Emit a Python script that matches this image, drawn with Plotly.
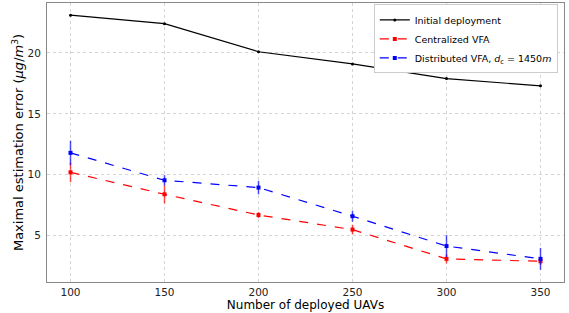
import plotly.graph_objects as go

uavs = [100, 150, 200, 250, 300, 350]
initial = [23.1, 22.4, 20.1, 19.1, 17.9, 17.3]
central = [10.2, 8.4, 6.7, 5.5, 3.1, 2.9]
central_err = [0.8, 0.75, 0.25, 0.4, 0.38, 0.3]
distrib = [11.8, 9.55, 8.95, 6.6, 4.15, 3.1]
distrib_err = [1.0, 0.42, 0.55, 0.45, 0.9, 0.9]

fig = go.Figure()
fig.add_trace(go.Scatter(x=uavs, y=initial, mode="lines+markers", name="Initial deployment",
                         line=dict(color="black", width=1.2), marker=dict(size=3, color="black")))
fig.add_trace(go.Scatter(x=uavs, y=central, mode="lines+markers", name="Centralized VFA",
                         line=dict(color="red", width=1.2, dash="dash"),
                         marker=dict(size=4, color="red", symbol="square"),
                         error_y=dict(type="data", array=central_err, color="rgba(255,0,0,0.7)", thickness=1.5, width=0)))
fig.add_trace(go.Scatter(x=uavs, y=distrib, mode="lines+markers",
                         name="Distributed VFA, <i>d</i><sub>c</sub> = 1450<i>m</i>",
                         line=dict(color="blue", width=1.2, dash="dash"),
                         marker=dict(size=4, color="blue", symbol="square"),
                         error_y=dict(type="data", array=distrib_err, color="rgba(0,0,255,0.7)", thickness=1.5, width=0)))

axis_common = dict(showline=True, mirror=True, linecolor="#888888", linewidth=1,
                   showgrid=True, gridcolor="#d4d4d4", griddash="dot", gridwidth=1,
                   zeroline=False, ticks="", automargin=False,
                   tickfont=dict(size=10.5, color="#222222"))
fig.update_layout(
    width=569, height=313,
    margin=dict(l=47, r=5, t=3, b=31, autoexpand=False),
    paper_bgcolor="white", plot_bgcolor="white",
    font=dict(family="DejaVu Sans", color="black"),
    xaxis=dict(range=[87.5, 362.5], tickvals=uavs, ticklabelstandoff=0,
               title=dict(text="Number of deployed UAVs", font=dict(size=12), standoff=0), **axis_common),
    yaxis=dict(range=[1.2, 24.1], tickvals=[5, 10, 15, 20], ticklabelstandoff=3,
               title=dict(text="Maximal estimation error (<i>μg</i>/<i>m</i><sup>3</sup>)", font=dict(size=13), standoff=0),
               **axis_common),
    legend=dict(x=0.988, y=0.995, xanchor="right", yanchor="top", bgcolor="white",
                bordercolor="#cccccc", borderwidth=1, font=dict(size=9.5), tracegroupgap=0,
                itemwidth=30),
    showlegend=True,
)
fig.write_html("out.html", config={"displayModeBar": False},
               post_script="document.body.style.margin='0';")
